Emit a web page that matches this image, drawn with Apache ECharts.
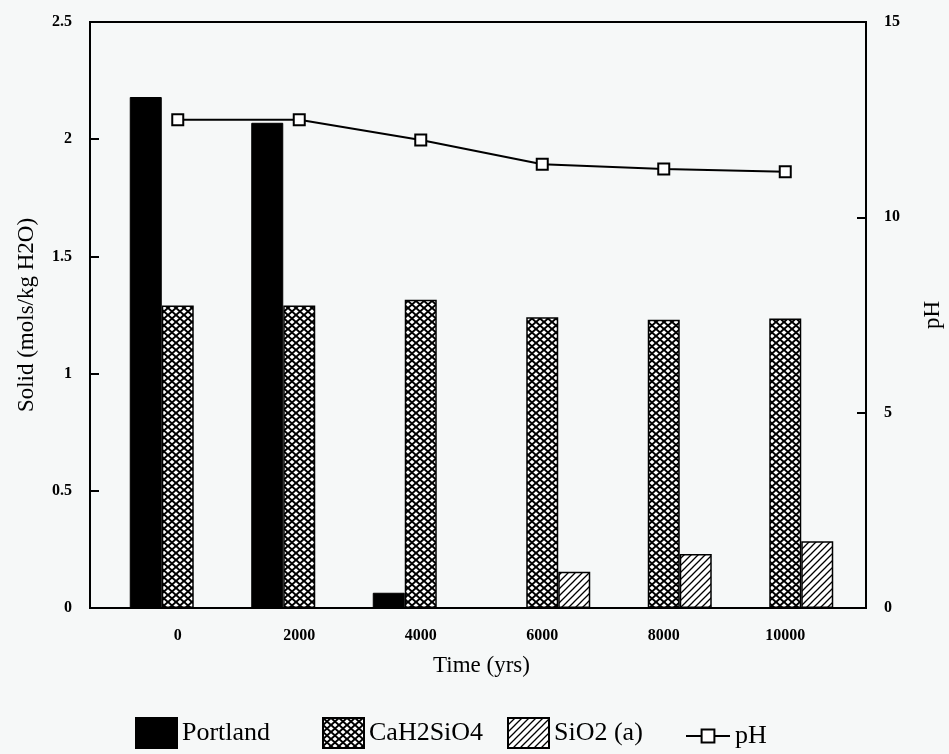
<!DOCTYPE html>
<html>
<head>
<meta charset="utf-8">
<script src="https://cdn.jsdelivr.net/npm/echarts@6/dist/echarts.min.js"></script>
<style>
  html, body { margin: 0; padding: 0; background: #f6f8f8; }
  #chart { width: 949px; height: 754px; }
</style>
</head>
<body>
<div id="chart"></div>
<script>
var years = ['0', '2000', '4000', '6000', '8000', '10000'];
var portland = [2.18, 2.07, 0.065, 0, 0, 0];
var cah2sio4 = [1.29, 1.29, 1.315, 1.24, 1.23, 1.235];
var sio2 = [0, 0, 0, 0.155, 0.23, 0.285];
var ph = [12.5, 12.5, 11.98, 11.36, 11.24, 11.17];

var solidTicks = [0, 0.5, 1, 1.5, 2, 2.5];
var phTicks = [0, 5, 10, 15];

var serif = '"Liberation Serif", "DejaVu Serif", serif';

// fill patterns for the hatched bars
function crossHatch() {
    var c = document.createElement('canvas');
    c.width = 8; c.height = 7;
    var g = c.getContext('2d');
    g.fillStyle = '#fff';
    g.fillRect(0, 0, 8, 7);
    g.strokeStyle = '#000';
    g.lineWidth = 2;
    g.beginPath();
    g.moveTo(-8, -7); g.lineTo(16, 14);
    g.moveTo(16, -7); g.lineTo(-8, 14);
    g.stroke();
    return c;
}
function diagHatch() {
    var c = document.createElement('canvas');
    c.width = 7; c.height = 7;
    var g = c.getContext('2d');
    g.fillStyle = '#fff';
    g.fillRect(0, 0, 7, 7);
    g.strokeStyle = '#000';
    g.lineWidth = 1.3;
    g.beginPath();
    g.moveTo(-7, 14); g.lineTo(14, -7);
    g.moveTo(-7, 7); g.lineTo(7, -7);
    g.moveTo(0, 14); g.lineTo(14, 0);
    g.stroke();
    return c;
}

var chart = echarts.init(document.getElementById('chart'));

function legendAt(name, left, top, w, h) {
    return {
        data: [{ name: name, icon: name === 'pH' ? undefined : 'rect' }],
        left: left,
        top: top,
        itemWidth: w,
        itemHeight: h,
        selectedMode: false,
        textStyle: { fontFamily: serif, fontSize: 26, color: '#000' }
    };
}

var tickLabel = { fontFamily: serif, fontSize: 16, fontWeight: 'bold', color: '#000' };

var option = {
    backgroundColor: '#f6f8f8',
    animation: false,
    legend: [
        legendAt('Portland', 130, 712, 41, 30),
        legendAt('CaH2SiO4', 317, 712, 41, 30),
        legendAt('SiO2 (a)', 502, 712, 41, 30),
        legendAt('pH', 680, 718, 44, 16)
    ],
    grid: [
        { left: 90, top: 22, width: 776, height: 586, outerBoundsMode: 'none', show: true, borderColor: '#000', borderWidth: 2, backgroundColor: 'transparent' },
        { left: 117, top: 22, width: 729, height: 586, outerBoundsMode: 'none' }
    ],
    xAxis: [
        { gridIndex: 0, type: 'category', data: [''], show: false },
        {
            gridIndex: 1, type: 'category', data: years,
            axisLine: { show: false }, axisTick: { show: false },
            axisLabel: Object.assign({ margin: 20 }, tickLabel),
            name: 'Time (yrs)', nameLocation: 'middle', nameGap: 46,
            nameTextStyle: { fontFamily: serif, fontSize: 23, color: '#000' }
        }
    ],
    yAxis: [
        {
            gridIndex: 0, type: 'value', position: 'left', min: 0, max: 2.5, interval: 0.5,
            axisLine: { show: false },
            axisTick: { show: true, inside: true, length: 9, lineStyle: { color: '#000', width: 2 } },
            axisLabel: Object.assign({ margin: 18 }, tickLabel),
            splitLine: { show: false },
            name: 'Solid (mols/kg H2O)', nameLocation: 'middle', nameGap: 52, nameRotate: 90,
            nameTextStyle: { fontFamily: serif, fontSize: 23, color: '#000' }
        },
        {
            gridIndex: 0, type: 'value', position: 'right', min: 0, max: 15, interval: 5,
            axisLine: { show: false },
            axisTick: { show: true, inside: true, length: 9, lineStyle: { color: '#000', width: 2 } },
            axisLabel: Object.assign({ margin: 18 }, tickLabel),
            splitLine: { show: false },
            name: 'pH', nameLocation: 'middle', nameGap: 55, nameRotate: 90,
            nameTextStyle: { fontFamily: serif, fontSize: 23, color: '#000' }
        },
        { gridIndex: 1, type: 'value', min: 0, max: 2.5, show: false, splitLine: { show: false } },
        { gridIndex: 1, type: 'value', min: 0, max: 15, show: false, splitLine: { show: false } }
    ],
    series: [
        {
            name: 'Portland', type: 'bar', xAxisIndex: 1, yAxisIndex: 2,
            barWidth: 32, barGap: '0%',
            itemStyle: { color: '#000', borderColor: '#000', borderWidth: 1 },
            data: portland
        },
        {
            name: 'CaH2SiO4', type: 'bar', xAxisIndex: 1, yAxisIndex: 2,
            barWidth: 32, barGap: '0%',
            itemStyle: { color: { image: crossHatch(), repeat: 'repeat' }, borderColor: '#000', borderWidth: 1.5 },
            data: cah2sio4
        },
        {
            name: 'SiO2 (a)', type: 'bar', xAxisIndex: 1, yAxisIndex: 2,
            barWidth: 32, barGap: '0%',
            itemStyle: { color: { image: diagHatch(), repeat: 'repeat' }, borderColor: '#000', borderWidth: 1.5 },
            data: sio2
        },
        {
            name: 'pH', type: 'line', xAxisIndex: 1, yAxisIndex: 3,
            symbol: 'rect', symbolSize: 11,
            lineStyle: { color: '#000', width: 2 },
            itemStyle: { color: '#fff', borderColor: '#000', borderWidth: 2 },
            data: ph
        }
    ]
};

chart.setOption(option);
</script>
</body>
</html>
